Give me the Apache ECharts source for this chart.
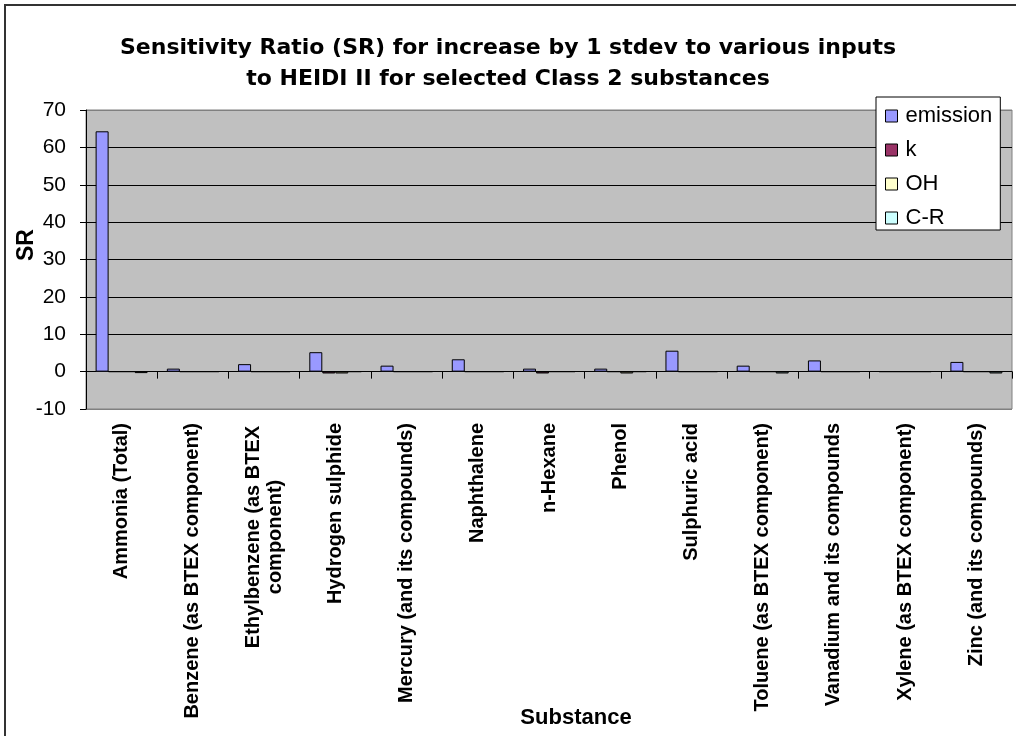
<!DOCTYPE html>
<html>
<head>
<meta charset="utf-8">
<script src="https://cdn.jsdelivr.net/npm/echarts@6/dist/echarts.min.js"></script>
<style>
html,body{margin:0;padding:0;background:#fff;}
#chart{width:1016px;height:736px;}
</style>
</head>
<body>
<div id="chart"></div>
<script>
const categories = [
  'Ammonia (Total)',
  'Benzene (as BTEX component)',
  'Ethylbenzene (as BTEX\ncomponent)',
  'Hydrogen sulphide',
  'Mercury (and its compounds)',
  'Naphthalene',
  'n-Hexane',
  'Phenol',
  'Sulphuric acid',
  'Toluene (as BTEX component)',
  'Vanadium and its compounds',
  'Xylene (as BTEX component)',
  'Zinc (and its compounds)'
];
const emission = [64.3, 0.8, 2.0, 5.2, 1.6, 3.3, 0.8, 0.8, 5.6, 1.6, 3.0, 0, 2.6];
const kVals    = [0, 0, 0, -0.5, 0, 0, -0.5, 0, 0, 0, 0, 0, 0];
const ohVals   = [0, 0, 0, -0.5, 0, 0, 0, -0.5, 0, 0, 0, 0, 0];
const crVals   = [-0.4, 0, 0, 0, 0, 0, 0, 0, 0, -0.5, 0, 0, -0.5];
const seriesNames = ['emission', 'k', 'OH', 'C-R'];
const seriesColors = ['#9999ff', '#993366', '#ffffcc', '#ccffff'];
const yTicks = { min: -10, max: 70, interval: 10 };

const FONT = '"Liberation Sans", Arial, sans-serif';
const TITLE_FONT = '"DejaVu Sans", "Liberation Sans", Arial, sans-serif';
const chart = echarts.init(document.getElementById('chart'), null, { renderer: 'canvas' });

const seriesData = [emission, kVals, ohVals, crVals];
const series = seriesNames.map((name, i) => ({
  name: name,
  type: 'bar',
  xAxisIndex: 0,
  data: seriesData[i],
  barWidth: 13,
  barGap: '0%',
  barCategoryGap: '27%',
  itemStyle: { color: seriesColors[i], borderColor: '#000', borderWidth: 1 },
  emphasis: { disabled: true },
  animation: false
}));

const gridColors = ['#808080', '#000', '#000', '#000', '#000', '#000', '#000', '#000', '#808080'];

chart.setOption({
  backgroundColor: '#fff',
  animation: false,
  title: {
    text: 'Sensitivity Ratio (SR) for increase by 1 stdev to various inputs\nto HEIDI II for selected Class 2 substances',
    left: 'center',
    top: 28,
    textStyle: { fontFamily: TITLE_FONT, fontSize: 22, fontWeight: 'bold', color: '#000', lineHeight: 31, align: 'center' }
  },
  legend: {
    orient: 'vertical',
    left: 876,
    top: 97,
    padding: [8, 8, 1, 9],
    itemGap: 12,
    itemWidth: 12,
    itemHeight: 12,
    icon: 'rect',
    backgroundColor: '#fff',
    borderColor: '#000',
    borderWidth: 1,
    borderRadius: 0,
    selectedMode: false,
    itemStyle: { borderColor: '#000', borderWidth: 1 },
    textStyle: { fontFamily: FONT, fontSize: 22, color: '#000', lineHeight: 22, padding: [0, 0, 0, 3] },
    data: seriesNames
  },
  grid: {
    left: 86, top: 110, right: 4, bottom: 327,
    show: true, backgroundColor: '#c0c0c0', borderColor: '#808080', borderWidth: 1
  },
  xAxis: [
    {
      type: 'category',
      data: categories,
      position: 'bottom',
      axisLine: { show: true, onZero: true, lineStyle: { color: '#000', width: 1 } },
      axisTick: { show: true, interval: 0, length: 7, lineStyle: { color: '#000' } },
      axisLabel: { show: false },
      splitLine: { show: false }
    },
    {
      type: 'category',
      data: categories,
      position: 'bottom',
      axisLine: { show: false, onZero: false },
      axisTick: { show: false },
      splitLine: { show: false },
      axisLabel: {
        show: true,
        interval: 0,
        rotate: 90,
        margin: 14,
        fontFamily: FONT,
        fontSize: 20,
        fontWeight: 'bold',
        color: '#000',
        lineHeight: 22,
        formatter: function (v) {
          if (v.indexOf('\n') >= 0) {
            return v.split('\n').map(s => '{c|' + s + '}').join('\n');
          }
          return v;
        },
        rich: {
          c: { width: 228, align: 'center', fontFamily: FONT, fontSize: 20, fontWeight: 'bold', color: '#000', lineHeight: 22 }
        }
      },
      name: 'Substance',
      nameLocation: 'middle',
      nameGap: 298,
      nameMoveOverlap: false,
      nameTextStyle: { fontFamily: FONT, fontSize: 22, fontWeight: 'bold', color: '#000', verticalAlign: 'top', padding: [0, 0, 0, 54] }
    }
  ],
  yAxis: {
    type: 'value',
    min: yTicks.min,
    max: yTicks.max,
    interval: yTicks.interval,
    axisLine: { show: true, lineStyle: { color: '#000', width: 1 } },
    axisTick: { show: true, length: 6, lineStyle: { color: '#000' } },
    axisLabel: { fontFamily: FONT, fontSize: 21, color: '#000', margin: 20 },
    splitLine: { show: true, lineStyle: { color: gridColors, width: 1 } },
    name: 'SR',
    nameLocation: 'middle',
    nameGap: 48,
    nameMoveOverlap: false,
    nameTextStyle: { fontFamily: FONT, fontSize: 23, fontWeight: 'bold', color: '#000', padding: [0, 0, 0, 29] }
  },
  graphic: [
    {
      type: 'rect',
      silent: true,
      z: 100,
      shape: { x: 5, y: 5, width: 1040, height: 760 },
      style: { fill: null, stroke: '#333', lineWidth: 2 }
    }
  ],
  series: series
});
</script>
</body>
</html>
